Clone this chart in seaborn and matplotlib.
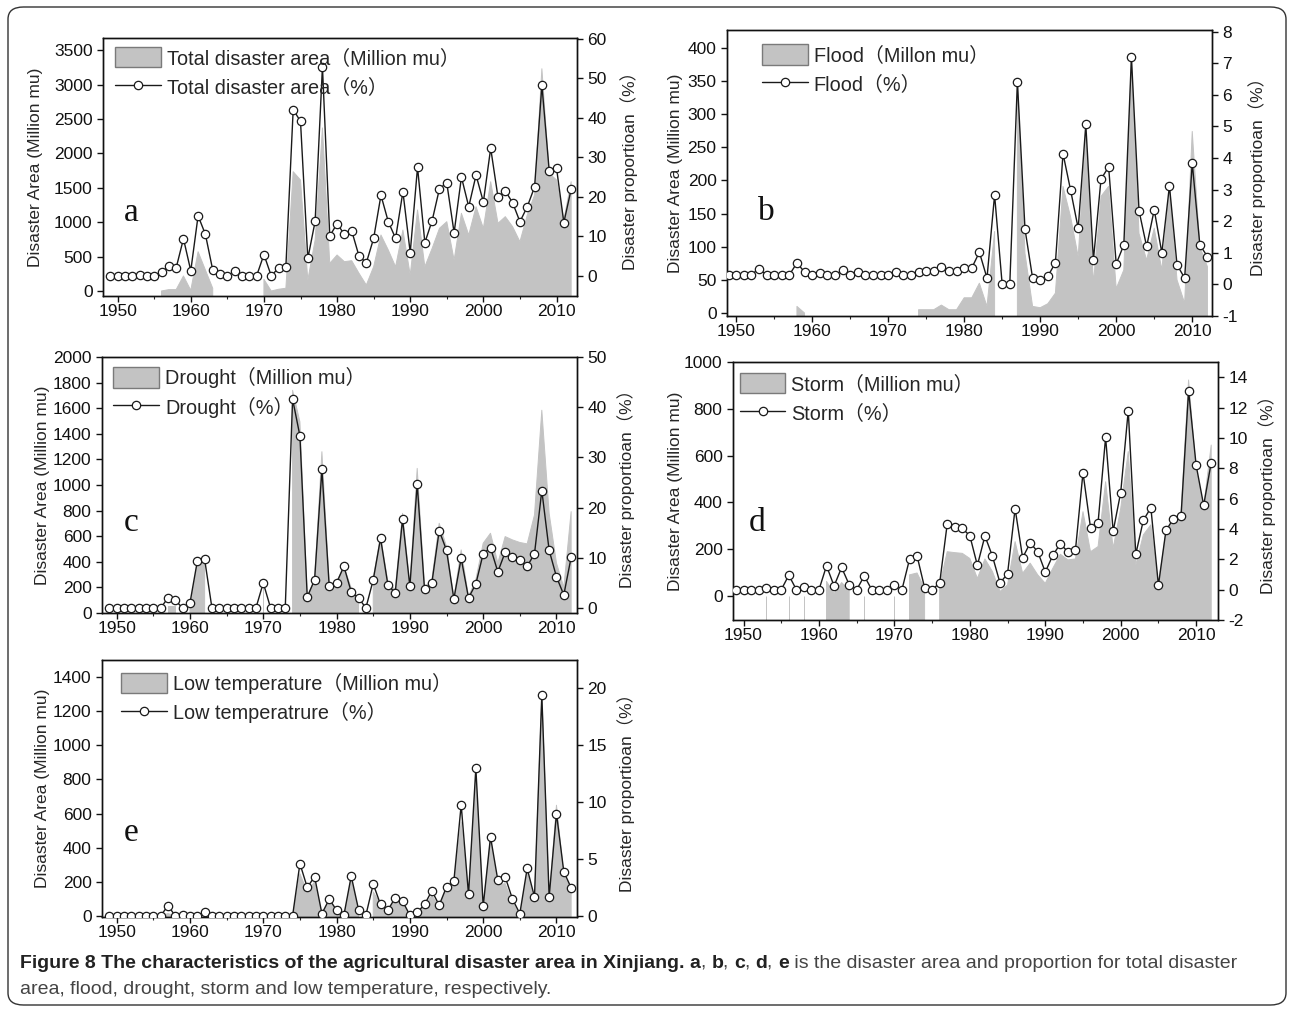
import numpy as np
import pandas as pd
import matplotlib
matplotlib.use("Agg")
import matplotlib.pyplot as plt
import seaborn as sns
from matplotlib.patches import Patch, FancyBboxPatch
from matplotlib.lines import Line2D
from matplotlib.ticker import MultipleLocator

nan = np.nan
years = list(range(1949, 2013))

# ---------------- data (1949 - 2012) ----------------
total_pct = [0, 0, 0, 0, 0.2, 0, 0, 0.85, 2.5, 2.0,
             9.4, 1.3, 15.2, 10.5, 1.5, 0.35, 0, 1.2, 0, 0,
             0, 5.4, 0, 2.0, 2.3, 42.1, 39.1, 4.4, 13.8, 52.9,
             10.1, 13.2, 10.5, 11.4, 5.0, 3.3, 9.5, 20.4, 13.7, 9.5,
             21.3, 5.9, 27.5, 8.4, 14.0, 22.1, 23.5, 10.9, 25.0, 17.5,
             25.5, 18.7, 32.3, 19.9, 21.5, 18.5, 13.7, 17.5, 22.5, 48.3,
             26.6, 27.3, 13.5, 21.9]
total_area = [nan, nan, nan, nan, nan, nan, nan, 0, 20, 20,
              218, 10, 571, 305, 40, nan, nan, nan, nan, nan,
              nan, 170, 0, 25, 40, 1734, 1613, 160, 741, 2370,
              402, 523, 426, 440, 257, 87, 353, 814, 596, 353,
              886, 232, 1177, 353, 620, 911, 1007, 450, 1129, 814,
              1225, 911, 1588, 984, 1080, 934, 716, 1104, 1395, 3230,
              1710, 1613, 1032, 1588]

flood_pct = [0.3, 0.3, 0.3, 0.3, 0.5, 0.3, 0.3, 0.3, 0.3, 0.68,
             0.39, 0.3, 0.35, 0.3, 0.3, 0.45, 0.3, 0.4, 0.3, 0.3,
             0.3, 0.3, 0.4, 0.3, 0.3, 0.4, 0.42, 0.42, 0.55, 0.42,
             0.42, 0.52, 0.52, 1.02, 0.2, 2.83, 0.0, 0.0, 6.42, 1.75,
             0.2, 0.15, 0.26, 0.68, 4.14, 2.98, 1.77, 5.06, 0.77, 3.33,
             3.72, 0.65, 1.25, 7.19, 2.33, 1.2, 2.36, 1.0, 3.12, 0.62,
             0.2, 3.84, 1.25, 0.88]
flood_area = [nan, nan, nan, nan, nan, nan, nan, nan, nan, 10,
              0, nan, nan, nan, nan, nan, nan, nan, nan, nan,
              nan, nan, nan, nan, nan, 5, 5, 5, 12, 5,
              5, 23, 23, 45, 10, 123, nan, nan, 349, 90,
              10, 8, 14, 30, 191, 145, 85, 271, 45, 176,
              191, 37, 65, 382, 120, 80, 128, 65, 186, 50,
              15, 274, 100, 70]

drought_pct = [0, 0, 0, 0, 0, 0, 0, 0, 2.0, 1.5,
               0, 1.0, 9.3, 9.7, 0, 0, 0, 0, 0, 0,
               0, 5.0, 0, 0, 0, 41.6, 34.3, 2.2, 5.6, 27.6,
               4.3, 5.0, 8.3, 3.2, 2.0, 0, 5.6, 13.9, 4.6, 3.0,
               17.7, 4.3, 24.7, 3.7, 5.0, 15.4, 11.5, 1.8, 9.9, 2.0,
               4.8, 10.8, 12.0, 7.2, 11.1, 10.2, 9.5, 8.3, 10.8, 23.4,
               11.5, 6.2, 2.6, 10.1]
drought_area = [nan, nan, nan, nan, nan, nan, nan, nan, 55, 55,
                nan, 30, 385, 400, nan, nan, nan, nan, nan, nan,
                nan, 210, nan, nan, nan, 1740, 1493, 130, 260, 1260,
                220, 245, 363, 195, 78, nan, 273, 597, 245, 182,
                779, 220, 1130, 200, 260, 701, 519, 117, 493, 130,
                260, 545, 623, 390, 597, 571, 551, 540, 766, 1584,
                779, 390, 200, 792]

storm_pct = [0, 0, 0, 0, 0.1, 0, 0, 0.95, 0, 0.2,
             0, 0, 1.57, 0.24, 1.46, 0.33, 0, 0.9, 0, 0,
             0, 0.33, 0, 2.0, 2.23, 0.13, 0, 0.44, 4.33, 4.1,
             4.04, 3.55, 1.6, 3.54, 2.2, 0.44, 1.05, 5.34, 2.1, 3.08,
             2.5, 1.16, 2.26, 3.03, 2.48, 2.6, 7.71, 4.07, 4.42, 10.04,
             3.85, 6.4, 11.8, 2.33, 4.57, 5.4, 0.29, 3.9, 4.68, 4.84,
             13.1, 8.2, 5.56, 8.37]
storm_area = [nan, nan, nan, nan, 0, nan, nan, 0, nan, 0,
              nan, nan, 62, 10, 57, 25, nan, 0, nan, nan,
              nan, 0, nan, 90, 98, 33, nan, 47, 189, 185,
              182, 160, 75, 158, 104, 19, 47, 232, 97, 140,
              90, 54, 118, 178, 154, 158, 360, 189, 211, 488,
              204, 374, 617, 132, 261, 304, 47, 275, 325, 360,
              923, 538, 382, 645]

lowt_pct = [0, 0, 0, 0, 0, 0, 0, 0, 0.9, 0,
            0.1, 0, 0, 0.35, 0, 0, 0, 0, 0, 0,
            0, 0, 0, 0, 0, 0, 4.6, 2.5, 3.45, 0.2,
            1.47, 0.5, 0.06, 3.5, 0.55, 0.06, 2.8, 1.0, 0.5, 1.6,
            1.3, 0.06, 0.3, 1.0, 2.2, 0.94, 2.55, 3.05, 9.76, 1.88,
            13.0, 0.85, 6.95, 3.14, 3.43, 1.47, 0.2, 4.17, 1.67, 19.4,
            1.67, 9.0, 3.88, 2.47]
lowt_area = [nan, nan, nan, nan, nan, nan, nan, 0, 14, 0,
             nan, nan, nan, nan, nan, nan, nan, nan, nan, nan,
             nan, nan, nan, nan, nan, 0, 248, 141, 200, 8,
             92, 23, 0, 219, 33, nan, 141, 72, 43, 92,
             78, 0, 14, 59, 121, 53, 164, 200, 551, 121,
             825, 53, 454, 180, 190, 82, 0, 258, 92, 1294,
             102, 649, 239, 160]

# ---------------- style ----------------
sns.set_style("ticks")
plt.rcParams['font.family'] = ['Liberation Sans', 'Noto Sans CJK SC', 'DejaVu Sans']
plt.rcParams['axes.unicode_minus'] = False
plt.rcParams['axes.edgecolor'] = '#111111'
plt.rcParams['axes.linewidth'] = 1.0

W, H = 1292, 1011
fig = plt.figure(figsize=(W / 100, H / 100), dpi=100)

FILL = '#c3c3c3'
LINE = '#1a1a1a'
TICK_FS = 12.5
LAB_FS = 12.5
LEG_FS = 14.3

panels = [
    dict(box=(103, 38, 577, 296), area=total_area, pct=total_pct,
         xlim=(1948.0, 2012.8), ylim1=(-73, 3677), ylim2=(-5.1, 60.2),
         yt1=np.arange(0, 3501, 500), yt2=np.arange(0, 61, 10),
         leg=("Total disaster area（Million mu）", "Total disaster area（%）"),
         legpos=(0.026, 0.965), letter='a', letpos=(131, 213), lab1x=-0.1266, lab2x=1.0907),
    dict(box=(727, 30, 1212, 316), area=flood_area, pct=flood_pct,
         xlim=(1948.8, 2012.6), ylim1=(-4.5, 427), ylim2=(-1.0, 8.05),
         yt1=np.arange(0, 401, 50), yt2=np.arange(-1, 9, 1),
         leg=("Flood（Millon mu）", "Flood（%）"),
         legpos=(0.072, 0.95), letter='b', letpos=(766, 212), lab1x=-0.0907, lab2x=1.0742),
    dict(box=(102, 357, 577, 613), area=drought_area, pct=drought_pct,
         xlim=(1948.0, 2012.8), ylim1=(0, 2000), ylim2=(-1.0, 50),
         yt1=np.arange(0, 2001, 200), yt2=np.arange(0, 51, 10),
         leg=("Drought（Million mu）", "Drought（%）"),
         legpos=(0.024, 0.96), letter='c', letpos=(131, 523), lab1x=-0.1095, lab2x=1.0842),
    dict(box=(733, 362, 1218, 620), area=storm_area, pct=storm_pct,
         xlim=(1948.6, 2012.9), ylim1=(-103, 1000), ylim2=(-2, 15),
         yt1=np.arange(0, 1001, 200), yt2=np.arange(-2, 15, 2),
         leg=("Storm（Million mu）", "Storm（%）"),
         legpos=(0.014, 0.958), letter='d', letpos=(757, 523), lab1x=-0.103, lab2x=1.0825),
    dict(box=(102, 660, 577, 917), area=lowt_area, pct=lowt_pct,
         xlim=(1948.0, 2012.8), ylim1=(-6, 1500), ylim2=(-0.1, 22.5),
         yt1=np.arange(0, 1401, 200), yt2=np.arange(0, 21, 5),
         leg=("Low temperature（Million mu）", "Low temperatrure（%）"),
         legpos=(0.04, 0.95), letter='e', letpos=(131, 833), lab1x=-0.1095, lab2x=1.0842),
]


def add_ax(l, t, r, b):
    return fig.add_axes([l / W, 1 - b / H, (r - l) / W, (b - t) / H])


for p in panels:
    ax = add_ax(*p['box'])
    area = np.array(p['area'], dtype=float)
    ax.fill_between(years, area, p['ylim1'][0], facecolor=FILL, edgecolor=FILL,
                    linewidth=0.7, zorder=1)
    ax.set_xlim(*p['xlim'])
    ax.set_ylim(*p['ylim1'])
    ax.set_yticks(p['yt1'])
    ax.xaxis.set_major_locator(MultipleLocator(10))
    ax.xaxis.set_minor_locator(MultipleLocator(5))
    ax.tick_params(axis='both', which='major', direction='out', length=4, width=1,
                   labelsize=TICK_FS, colors='#111111')
    ax.tick_params(axis='x', which='minor', direction='out', length=2.5, width=0.8)
    ax.tick_params(axis='x', pad=2)
    ax.set_ylabel("Disaster Area (Million mu)", fontsize=LAB_FS)
    ax.yaxis.set_label_coords(p['lab1x'], 0.5)
    ax.set_xlabel("")
    for s in ax.spines.values():
        s.set_visible(True)

    ax2 = ax.twinx()
    df = pd.DataFrame({'year': years, 'pct': p['pct']})
    sns.lineplot(data=df, x='year', y='pct', ax=ax2, color=LINE, linewidth=1.0,
                 marker='o', markersize=6, markerfacecolor='white',
                 markeredgecolor=LINE, markeredgewidth=0.9, zorder=3)
    ax2.set_xlim(*p['xlim'])
    ax2.set_ylim(*p['ylim2'])
    ax2.set_yticks(p['yt2'])
    ax2.tick_params(axis='y', direction='out', length=4, width=1,
                    labelsize=TICK_FS, colors='#111111')
    ax2.set_ylabel("Disaster proportioan（%）", fontsize=LAB_FS)
    ax2.yaxis.set_label_coords(p['lab2x'], 0.5)
    ax2.set_xlabel("")
    for s in ax2.spines.values():
        s.set_visible(True)

    handles = [Patch(facecolor=FILL, edgecolor='#7a7a7a', linewidth=1.0),
               Line2D([0], [0], color=LINE, lw=1.0, marker='o', markersize=6,
                      markerfacecolor='white', markeredgecolor=LINE, markeredgewidth=0.9)]
    ax2.legend(handles, list(p['leg']), loc='upper left', bbox_to_anchor=p['legpos'],
               frameon=False, fontsize=LEG_FS, handlelength=2.3, handleheight=1.2,
               handletextpad=0.3, labelspacing=0.42, borderaxespad=0, borderpad=0)

    fig.text(p['letpos'][0] / W, 1 - p['letpos'][1] / H, p['letter'],
             fontfamily='Liberation Serif', fontsize=24, ha='center', va='center',
             color='#111111')

# ---------------- border & caption ----------------
border = FancyBboxPatch((8 / W, 6 / H), (1278) / W, (998) / H,
                        boxstyle="round,pad=0,rounding_size=0.012",
                        transform=fig.transFigure, facecolor='none',
                        edgecolor='#333333', linewidth=1.0)
fig.patches.append(border)

fig.canvas.draw()
renderer = fig.canvas.get_renderer()
cap_font = ['Liberation Sans', 'DejaVu Sans']
CAP_FS = 14.0
pieces = [("Figure 8 The characteristics of the agricultural disaster area in Xinjiang. ", 'bold', '#222222'),
          ("a", 'bold', '#222222'), (", ", 'normal', '#444444'),
          ("b", 'bold', '#222222'), (", ", 'normal', '#444444'),
          ("c", 'bold', '#222222'), (", ", 'normal', '#444444'),
          ("d", 'bold', '#222222'), (", ", 'normal', '#444444'),
          ("e", 'bold', '#222222'),
          (" is the disaster area and proportion for total disaster", 'normal', '#444444')]
x = 20 / W
y1 = 1 - 963 / H
for txt, wt, col in pieces:
    t = fig.text(x, y1, txt, fontfamily=cap_font, fontsize=CAP_FS, fontweight=wt,
                 color=col, ha='left', va='center')
    bb = t.get_window_extent(renderer)
    x = bb.x1 / W
fig.text(20 / W, 1 - 990 / H, "area, flood, drought, storm and low temperature, respectively.",
         fontfamily=cap_font, fontsize=CAP_FS, color='#444444', ha='left', va='center')

fig.savefig("out.png", dpi=100)
